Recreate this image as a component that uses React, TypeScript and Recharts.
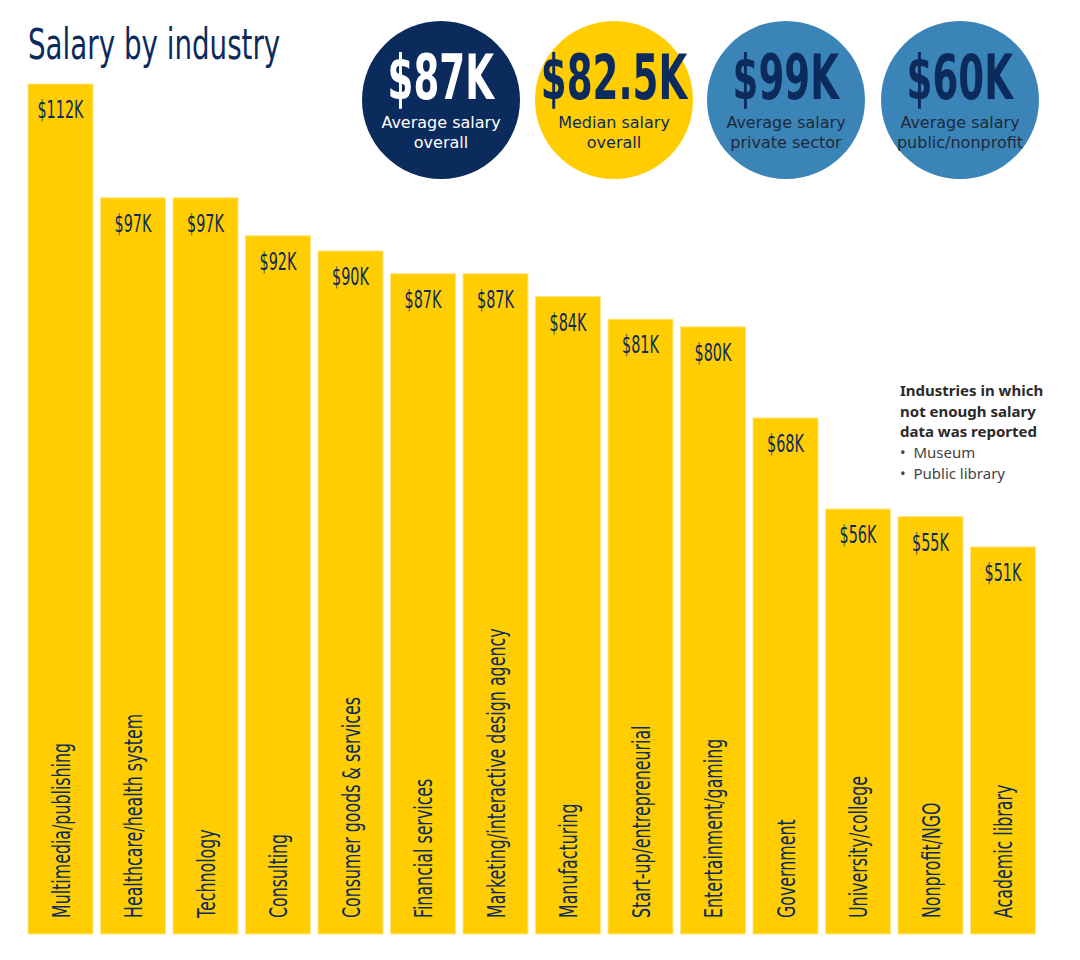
import { Bar, BarChart, LabelList, XAxis, YAxis } from "recharts";

const industries = [
  "Multimedia/publishing",
  "Healthcare/health system",
  "Technology",
  "Consulting",
  "Consumer goods & services",
  "Financial services",
  "Marketing/interactive design agency",
  "Manufacturing",
  "Start-up/entrepreneurial",
  "Entertainment/gaming",
  "Government",
  "University/college",
  "Nonprofit/NGO",
  "Academic library",
];
const salaries = [112, 97, 97, 92, 90, 87, 87, 84, 81, 80, 68, 56, 55, 51];

const bubbleValues = ["$87K", "$82.5K", "$99K", "$60K"];
const bubbleLabels = [
  ["Average salary", "overall"],
  ["Median salary", "overall"],
  ["Average salary", "private sector"],
  ["Average salary", "public/nonprofit"],
];
const missingIndustries = ["Museum", "Public library"];

const NAVY = "#0b2b5c";
const YELLOW = "#ffcd00";
const BLUE = "#3b84b7";
const FONT = "'DejaVu Sans', sans-serif";

const bubbleStyle = [
  { bg: NAVY, fg: "#ffffff", sub: "#ffffff" },
  { bg: YELLOW, fg: NAVY, sub: NAVY },
  { bg: BLUE, fg: NAVY, sub: "#1d2a3a" },
  { bg: BLUE, fg: NAVY, sub: "#1d2a3a" },
];
const bubbleX = [441, 614, 786, 960];

const data = industries.map((name, i) => ({ name, value: salaries[i] }));

// fake a condensed face by squeezing the glyphs horizontally
const Squeeze = ({ s, origin = "center", children }: any) => (
  <span style={{ display: "inline-block", transform: `scaleX(${s})`, transformOrigin: origin, whiteSpace: "nowrap", flexShrink: 0 }}>
    {children}
  </span>
);

const ValueLabel = (props: any) => {
  const { x, y, width, value } = props;
  const cx = x + width / 2;
  const cy = y + 34;
  return (
    <text transform={`translate(${cx} ${cy}) scale(0.6 1)`} x={0} y={0} textAnchor="middle" fill={NAVY}
      style={{ fontFamily: FONT, fontSize: 24 }}>
      ${value}K
    </text>
  );
};

const NameLabel = (props: any) => {
  const { x, y, width, height, value } = props;
  const cx = x + width / 2 + 9;
  const cy = y + height - 16;
  return (
    <text transform={`translate(${cx} ${cy}) rotate(-90) scale(0.66 1)`} x={0} y={0} fill={NAVY}
      style={{ fontFamily: FONT, fontSize: 24 }}>
      {value}
    </text>
  );
};

const App = () => {
  return (
    <div style={{ position: "absolute", left: 0, top: 0, width: 1080, height: 960, background: "#fff" }}>
      <div style={{ position: "absolute", left: 28, top: 20, fontFamily: FONT, fontSize: 42, color: NAVY }}>
        <Squeeze s={0.66} origin="left">Salary by industry</Squeeze>
      </div>
      {bubbleValues.map((v, i) => (
        <div key={v} style={{
          position: "absolute", left: bubbleX[i] - 79, top: 21, width: 158, height: 158,
          borderRadius: "50%", background: bubbleStyle[i].bg, textAlign: "center", fontFamily: FONT,
        }}>
          <div style={{
            marginTop: 24, height: 66, display: "flex", justifyContent: "center",
            fontSize: 62, lineHeight: "66px", color: bubbleStyle[i].fg, fontWeight: 700,
          }}>
            <Squeeze s={0.6}>{v}</Squeeze>
          </div>
          <div style={{ marginTop: 2, fontSize: 16, lineHeight: "20px", color: bubbleStyle[i].sub }}>
            {bubbleLabels[i][0]}<br />{bubbleLabels[i][1]}
          </div>
        </div>
      ))}
      <div style={{ position: "absolute", left: 900, top: 380, fontFamily: "'Noto Sans', sans-serif", fontSize: 15, lineHeight: "20.7px", color: "#2a2a2a" }}>
        <div style={{ fontWeight: 700 }}>Industries in which<br />not enough salary<br />data was reported</div>
        {missingIndustries.map((m) => (
          <div key={m} style={{ color: "#444" }}>•&nbsp;&nbsp;{m}</div>
        ))}
      </div>
      <div style={{ position: "absolute", left: 0, top: 0 }}>
        <BarChart width={1080} height={960} data={data}
          margin={{ top: 84, right: 41, bottom: 26, left: 24 }}>
          <XAxis dataKey="name" hide />
          <YAxis domain={[0, 112]} hide />
          <Bar dataKey="value" fill={YELLOW} stroke="#ffe680" strokeWidth={1} barSize={65} isAnimationActive={false}>
            <LabelList dataKey="value" content={ValueLabel} />
            <LabelList dataKey="name" content={NameLabel} />
          </Bar>
        </BarChart>
      </div>
    </div>
  );
};

export default App;
